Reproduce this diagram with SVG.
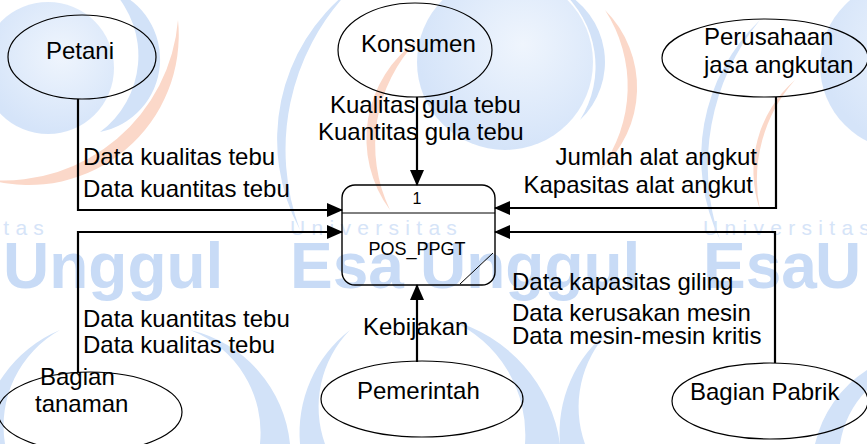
<svg xmlns="http://www.w3.org/2000/svg" width="867" height="444" viewBox="0 0 867 444">
  <defs>
    <radialGradient id="discFill" cx="0.6" cy="0.4" r="0.6">
      <stop offset="0" stop-color="#eff5fd"/>
      <stop offset="1" stop-color="#d5e4f9"/>
    </radialGradient>
    <marker id="arrow" markerWidth="16" markerHeight="14" refX="15" refY="7" orient="auto" markerUnits="userSpaceOnUse">
      <path d="M0,0 L16,7 L0,14 Z" fill="#000"/>
    </marker>
    <style>
      .wm-disc { fill: url(#discFill); }
      .wm-blue { fill: #d2e2f8; }
      .wm-orange { fill: #fbd8c9; }
      .wm-big { font-family: "Liberation Sans", Arial, sans-serif; font-weight: bold; font-size: 64px; fill: #c8dbf6; }
      .wm-small { font-family: "Liberation Sans", Arial, sans-serif; font-size: 21px; letter-spacing: 6.3px; fill: #d6e4f8; }
      .entity { fill: none; stroke: #000; stroke-width: 1.2; }
      .proc { fill: none; stroke: #000; stroke-width: 1.4; }
      .flow { fill: none; stroke: #000; stroke-width: 2.2; }
      .lbl { font-family: "Liberation Sans", Arial, sans-serif; font-size: 24px; fill: #000; }
      .small { font-family: "Liberation Sans", Arial, sans-serif; font-size: 16px; fill: #000; }
      .pname { font-family: "Liberation Sans", Arial, sans-serif; font-size: 18px; fill: #000; }
    </style>
  </defs>

  <rect width="867" height="444" fill="#fff"/>

  <!-- background watermark: logo marks and wordmark -->
  <g id="watermark">
    <circle class="wm-disc" cx="48" cy="68" r="66"/>
    <path class="wm-blue" d="M112,-10 A74,74 0 0 1 100,132 A95,95 0 0 0 112,-10 Z"/>
    <path class="wm-orange" d="M178,20 A150,150 0 0 1 -10,180 A175,175 0 0 0 178,20 Z"/>

    <circle class="wm-disc" cx="505" cy="62" r="88"/>
    <path class="wm-blue" d="M350,-10 A190,190 0 0 0 300,230 A230,230 0 0 1 350,-10 Z"/>
    <path class="wm-orange" d="M418,40 A120,120 0 0 0 390,210 A150,150 0 0 1 418,40 Z"/>
    <path class="wm-blue" d="M560,-10 A80,80 0 0 1 580,120 A100,100 0 0 0 560,-10 Z"/>
    <path class="wm-orange" d="M605,10 A110,110 0 0 1 600,170 A140,140 0 0 0 605,10 Z"/>

    <circle class="wm-disc" cx="905" cy="65" r="85"/>
    <path class="wm-blue" d="M760,20 A190,190 0 0 0 720,240 A230,230 0 0 1 760,20 Z"/>
    <path class="wm-orange" d="M795,80 A120,120 0 0 0 760,210 A150,150 0 0 1 795,80 Z"/>

    <path class="wm-blue" d="M60,330 A130,130 0 0 0 -20,444 L5,444 A110,110 0 0 1 60,330 Z"/>
    <path class="wm-blue" d="M190,330 A130,130 0 0 1 290,444 L260,444 A110,110 0 0 0 190,330 Z"/>
    <path class="wm-blue" d="M350,330 A130,130 0 0 0 300,444 L325,444 A110,110 0 0 1 350,330 Z"/>
    <path class="wm-blue" d="M450,320 A150,150 0 0 1 560,444 L525,444 A125,125 0 0 0 450,320 Z"/>
    <path class="wm-blue" d="M610,330 A130,130 0 0 0 560,444 L585,444 A110,110 0 0 1 610,330 Z"/>
    <path class="wm-blue" d="M867,370 A120,120 0 0 0 815,444 L840,444 A100,100 0 0 1 867,390 Z"/>

    <text class="wm-small" x="-123" y="235">Universitas</text>
    <text class="wm-small" x="290" y="235">Universitas</text>
    <text class="wm-small" x="703" y="235">Universitas</text>
    <text class="wm-big" x="3" y="288">Unggul</text>
    <text class="wm-big" x="290" y="288">Esa</text>
    <text class="wm-big" x="420" y="288">Unggul</text>
    <text class="wm-big" x="703" y="288">Esa</text>
    <text class="wm-big" x="815" y="288">U</text>
  </g>

  <!-- data flows -->
  <g id="connectors">
    <path class="flow" d="M78,99 V210 H342" marker-end="url(#arrow)"/>
    <path class="flow" d="M78,373 V232 H342" marker-end="url(#arrow)"/>
    <path class="flow" d="M417,97 V185" marker-end="url(#arrow)"/>
    <path class="flow" d="M776,97 V208 H495" marker-end="url(#arrow)"/>
    <path class="flow" d="M775,363 V232 H495" marker-end="url(#arrow)"/>
    <path class="flow" d="M417,362 V285" marker-end="url(#arrow)"/>

    <text class="lbl" x="83" y="165">Data kualitas tebu</text>
    <text class="lbl" x="83" y="197">Data kuantitas tebu</text>
    <text class="lbl" x="330" y="113">Kualitas gula tebu</text>
    <text class="lbl" x="318" y="140">Kuantitas gula tebu</text>
    <text class="lbl" x="757" y="165" text-anchor="end">Jumlah alat angkut</text>
    <text class="lbl" x="753" y="193" text-anchor="end">Kapasitas alat angkut</text>
    <text class="lbl" x="83" y="327">Data kuantitas tebu</text>
    <text class="lbl" x="83" y="353">Data kualitas tebu</text>
    <text class="lbl" x="363" y="335">Kebijakan</text>
    <text class="lbl" x="512" y="290">Data kapasitas giling</text>
    <text class="lbl" x="512" y="321">Data kerusakan mesin</text>
    <text class="lbl" x="512" y="344">Data mesin-mesin kritis</text>
  </g>

  <!-- process 1 -->
  <g id="process-pos-ppgt">
    <rect class="proc" x="342" y="185" width="153" height="100" rx="13"/>
    <line x1="342" y1="213" x2="495" y2="213" stroke="#000" stroke-width="1"/>
    <line x1="493" y1="253" x2="460" y2="284" stroke="#000" stroke-width="1"/>
    <text class="small" x="417" y="204" text-anchor="middle">1</text>
    <text class="pname" x="417" y="255" text-anchor="middle">POS_PPGT</text>
  </g>

  <!-- external entities -->
  <g id="petani">
    <ellipse class="entity" cx="82" cy="57" rx="74" ry="42"/>
    <text class="lbl" x="46" y="59">Petani</text>
  </g>
  <g id="konsumen">
    <ellipse class="entity" cx="415" cy="50" rx="77" ry="47"/>
    <text class="lbl" x="361" y="52">Konsumen</text>
  </g>
  <g id="perusahaan-jasa-angkutan">
    <ellipse class="entity" cx="765" cy="58" rx="103" ry="39"/>
    <text class="lbl" x="704" y="45">Perusahaan</text>
    <text class="lbl" x="704" y="73">jasa angkutan</text>
  </g>
  <g id="bagian-tanaman">
    <ellipse class="entity" cx="90" cy="412" rx="92" ry="40"/>
    <text class="lbl" x="40" y="385">Bagian</text>
    <text class="lbl" x="35" y="412">tanaman</text>
  </g>
  <g id="pemerintah">
    <ellipse class="entity" cx="422" cy="399" rx="101" ry="38"/>
    <text class="lbl" x="357" y="399">Pemerintah</text>
  </g>
  <g id="bagian-pabrik">
    <ellipse class="entity" cx="770" cy="401" rx="98" ry="38"/>
    <text class="lbl" x="690" y="400">Bagian Pabrik</text>
  </g>
</svg>
